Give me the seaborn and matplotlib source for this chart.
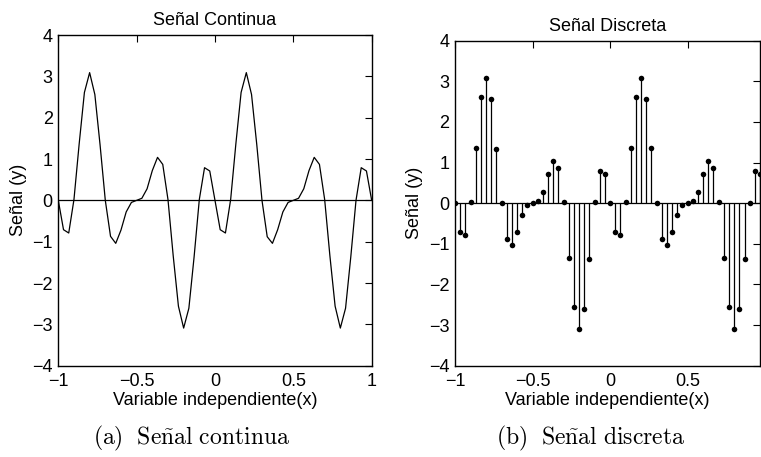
import numpy as np
import pandas as pd
import matplotlib
matplotlib.use("Agg")
import matplotlib.pyplot as plt
import seaborn as sns

# Sample positions: step of 1/30 from -1; the discrete plot stops one step before 1
x_cont = [-1 + k / 30 for k in range(61)]
x_disc = x_cont[:60]

# Signal amplitudes read at each sample (two periods of 30 samples, plus the endpoint)
y_values = [
    0.00, -0.71, -0.79, 0.02, 1.37, 2.61, 3.09, 2.56, 1.34, 0.00,
    -0.87, -1.04, -0.72, -0.28, -0.05, 0.00, 0.05, 0.28, 0.72, 1.04,
    0.87, 0.02, -1.34, -2.56, -3.09, -2.61, -1.37, 0.02, 0.79, 0.71,
    0.00, -0.71, -0.79, 0.02, 1.37, 2.61, 3.09, 2.56, 1.35, 0.00,
    -0.88, -1.04, -0.71, -0.28, -0.05, 0.00, 0.05, 0.28, 0.72, 1.04,
    0.87, 0.02, -1.34, -2.56, -3.09, -2.61, -1.37, 0.00, 0.79, 0.71,
    0.00,
]
y_cont = y_values
y_disc = y_values[:60]

titles = ["Señal Continua", "Señal Discreta"]
xlabel = "Variable independiente(x)"
ylabel = "Señal (y)"
captions = [r"$\mathrm{(a)\ \ Se\tilde{n}al\ continua}$",
            r"$\mathrm{(b)\ \ Se\tilde{n}al\ discreta}$"]
y_ticks = [-4, -3, -2, -1, 0, 1, 2, 3, 4]
x_ticks_cont = [-1, -0.5, 0, 0.5, 1]
x_ticks_disc = [-1, -0.5, 0, 0.5]

sns.set_style("white")
plt.rcParams["font.family"] = ["Liberation Sans", "DejaVu Sans"]
plt.rcParams["mathtext.fontset"] = "cm"
for key in ["text.color", "axes.labelcolor", "xtick.color", "ytick.color"]:
    plt.rcParams[key] = "black"

df_c = pd.DataFrame({"x": x_cont, "y": y_cont})
df_d = pd.DataFrame({"x": x_disc, "y": y_disc})

fig = plt.figure(figsize=(7.61, 4.57), dpi=100)
ax1 = fig.add_axes([0.0766, 0.1998, 0.4118, 0.7236])
ax2 = fig.add_axes([0.5979, 0.1998, 0.4008, 0.7111])

FS = 13

# Continuous signal
sns.lineplot(data=df_c, x="x", y="y", ax=ax1, color="black", linewidth=0.9)
ax1.axhline(0, color="black", linewidth=0.9)
ax1.set_xlim(-1, 1)
ax1.set_xticks(x_ticks_cont)
ax1.set_xticklabels(["\u22121", "\u22120.5", "0", "0.5", "1"])

# Discrete signal as stems with dot markers
ax2.vlines(df_d["x"], 0, df_d["y"], color="black", linewidth=0.9)
ax2.plot([x_disc[0], x_disc[-1]], [0, 0], color="black", linewidth=0.9)
sns.scatterplot(data=df_d, x="x", y="y", ax=ax2, color="black", s=16,
                edgecolor="black", linewidth=0, zorder=3)
ax2.set_xlim(x_disc[0], x_disc[-1])
ax2.set_xticks(x_ticks_disc)
ax2.set_xticklabels(["\u22121", "\u22120.5", "0", "0.5"])

for ax, title in zip([ax1, ax2], titles):
    ax.set_ylim(-4, 4)
    ax.set_yticks(y_ticks)
    ax.set_yticklabels([("\u2212" + str(-t)) if t < 0 else str(t) for t in y_ticks])
    ax.set_title(title, fontsize=FS, pad=7, color="black")
    ax.set_xlabel(xlabel, fontsize=FS, labelpad=2, color="black")
    ax.set_ylabel(ylabel, fontsize=FS, labelpad=4, color="black")
    ax.tick_params(direction="in", top=True, right=True, length=5, width=0.8,
                   labelsize=FS, color="black", labelcolor="black")
    ax.tick_params(axis="x", pad=5)
    ax.tick_params(axis="y", pad=4)
    for s in ax.spines.values():
        s.set_visible(True)
        s.set_color("black")
        s.set_linewidth(1.0)

fig.text(191.5 / 761, 1 - 438 / 457, captions[0], fontsize=17,
         ha="center", va="center", color="black")
fig.text(591 / 761, 1 - 438 / 457, captions[1], fontsize=17,
         ha="center", va="center", color="black")

fig.savefig("out.png", dpi=100, facecolor="white")
